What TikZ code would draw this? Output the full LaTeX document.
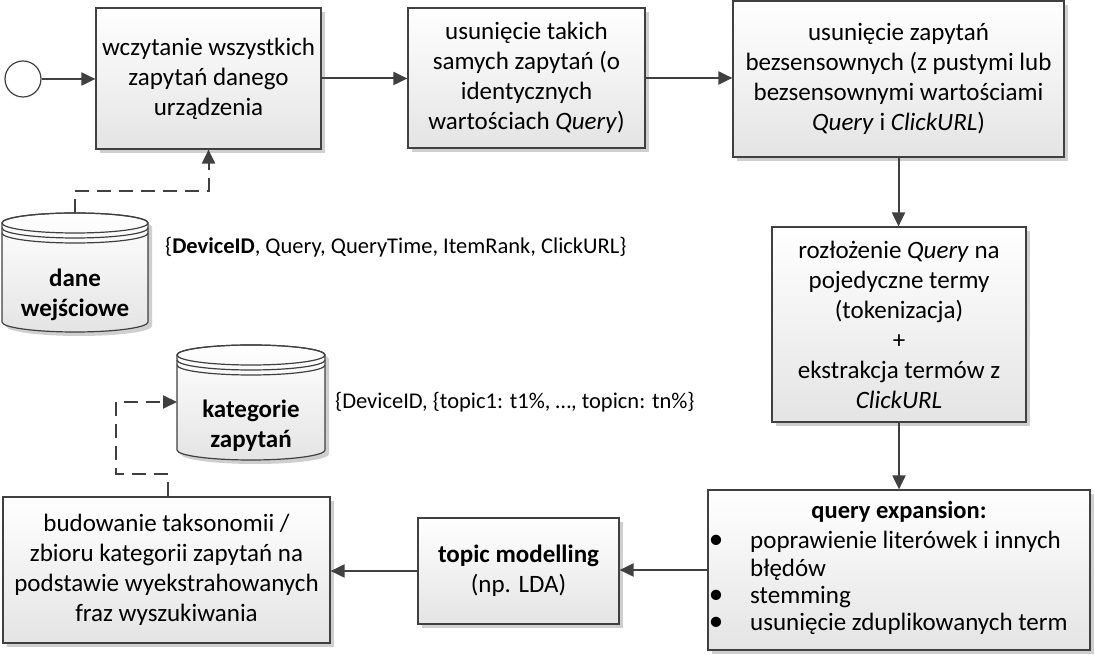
\documentclass[tikz,border=0pt]{standalone}
\usepackage{fontspec}
\setmainfont{Carlito}
\usetikzlibrary{arrows.meta,shadows,calc}
\definecolor{edgec}{HTML}{404040}
\definecolor{shadowc}{HTML}{CFCFCF}
\definecolor{boxbot}{HTML}{E4E4E4}
\newcommand\boxfont{\fontsize{25}{30}\selectfont}
\newcommand\lblfont{\fontsize{22.5}{27}\selectfont}
\newcommand\bulfont{\fontsize{29}{29}\selectfont}
\tikzset{
  procbox/.style={draw=edgec, line width=1.2pt, top color=white, bottom color=boxbot,
    drop shadow={shadow xshift=4pt, shadow yshift=-4pt, fill=shadowc, opacity=1},
    align=center, inner sep=0pt, font=\boxfont},
  flow/.style={draw=edgec, line width=2pt, -{Triangle[length=14pt,width=13pt]}},
  dflow/.style={flow, dash pattern=on 14pt off 8pt},
  lbl/.style={font=\lblfont, anchor=west, inner sep=0pt},
  cyltext/.style={font=\boxfont\bfseries, align=center, inner sep=0pt},
  cylbody/.style={draw=edgec, line width=1.2pt, top color=white, bottom color=boxbot},
  cylline/.style={draw=edgec, line width=1.2pt},
  txt/.style={font=\boxfont, inner sep=0pt},
  bul/.style={font=\bulfont, inner sep=0pt},
}
\begin{document}
\begin{tikzpicture}[x=1pt,y=1pt]
\useasboundingbox (0,0) rectangle (1094,655);
\fill[white] (0,0) rectangle (1094,655);

% start
\node[circle, draw=edgec, line width=1.2pt, fill=white, minimum size=36pt, inner sep=0pt] (start) at (23,576) {};

% boxes
\node[procbox, minimum width=225pt, minimum height=141pt] (b1) at (208.5,576.5)
  {wczytanie wszystkich\\zapytań danego\\urządzenia};
\node[procbox, minimum width=237pt, minimum height=140pt] (b2) at (526.5,577)
  {usunięcie takich\\samych zapytań (o\\identycznych\\wartościach \textit{Query})};
\node[procbox, minimum width=331pt, minimum height=156pt] (b3) at (898.5,576)
  {usunięcie zapytań\\bezsensownych (z pustymi lub\\bezsensownymi wartościami\\\textit{Query} i \textit{ClickURL})};
\node[procbox, minimum width=254pt, minimum height=195pt] (b4) at (899,330.5)
  {rozłożenie \textit{Query} na\\pojedyczne termy\\(tokenizacja)\\+\\ekstrakcja termów z\\\textit{ClickURL}};
\node[procbox, minimum width=382pt, minimum height=160pt] (b5) at (899,85) {};
\node[txt, font=\fontsize{24.5}{30}\selectfont\bfseries] (qe) at (899,143) {query expansion:};
\node[bul] (bu1) at (716,113) {•};
\node[txt, anchor=west] (t1) at (750,113) {poprawienie literówek i innych};
\node[txt, anchor=west] (t1b) at (750,85) {błędów};
\node[bul] (bu2) at (716,58) {•};
\node[txt, anchor=west] (t2) at (750,58) {stemming};
\node[bul] (bu3) at (716,31) {•};
\node[txt, anchor=west] (t3) at (750,31) {usunięcie zduplikowanych term};

\node[procbox, minimum width=201pt, minimum height=106pt] (b6) at (518.5,84)
  {\textbf{topic modelling}\\(np. LDA)};
\node[procbox, minimum width=327pt, minimum height=146pt] (b7) at (166.5,85)
  {budowanie taksonomii /\\zbioru kategorii zapytań na\\podstawie wyekstrahowanych\\fraz wyszukiwania};

% cylinder 1
\fill[shadowc] (6,428) -- (6,329) arc[start angle=180,end angle=360,x radius=73,y radius=10] -- (152,428) arc[start angle=0,end angle=180,x radius=73,y radius=10] -- cycle;
\path[cylbody] (2,432) -- (2,333) arc[start angle=180,end angle=360,x radius=73,y radius=10] -- (148,432) arc[start angle=0,end angle=180,x radius=73,y radius=10] -- cycle;
\draw[cylline] (75,432) ellipse[x radius=73,y radius=10];
\draw[cylline] (2,427) arc[start angle=180,end angle=360,x radius=73,y radius=10];
\draw[cylline] (2,422) arc[start angle=180,end angle=360,x radius=73,y radius=10];
\node[cyltext] (c1) at (75,360) {dane\\wejściowe};
\coordinate (c1top) at (75,442);

% cylinder 2
\fill[shadowc] (181,296) -- (181,201) arc[start angle=180,end angle=360,x radius=74,y radius=10] -- (329,296) arc[start angle=0,end angle=180,x radius=74,y radius=10] -- cycle;
\path[cylbody] (177,300) -- (177,205) arc[start angle=180,end angle=360,x radius=74,y radius=10] -- (325,300) arc[start angle=0,end angle=180,x radius=74,y radius=10] -- cycle;
\draw[cylline] (251,300) ellipse[x radius=74,y radius=10];
\draw[cylline] (177,295) arc[start angle=180,end angle=360,x radius=74,y radius=10];
\draw[cylline] (177,290) arc[start angle=180,end angle=360,x radius=74,y radius=10];
\node[cyltext] (c2) at (251,229) {kategorie\\zapytań};
\coordinate (c2left) at (177,253);

% labels
\node[lbl] (l1) at (165,408) {\{\textbf{DeviceID}, Query, QueryTime, ItemRank, ClickURL\}};
\node[lbl] (l2) at (335,253) {\{DeviceID, \{topic1: t1\%, …, topicn: tn\%\}};

% connectors
\draw[flow] (start.east) -- (start.east -| b1.west);
\draw[flow] (b1.east) -- (b1.east -| b2.west);
\draw[flow] (b2.east) -- (b2.east -| b3.west);
\draw[flow] (b3.south) -- (b3.south |- b4.north);
\draw[flow] (b4.south) -- (b4.south |- b5.north);
\draw[flow] (b5.west) -- (b5.west -| b6.east);
\draw[flow] (b6.west) -- (b6.west -| b7.east);
\draw[dflow] (c1top) -- ++(0,22) -| (b1.south);
\draw[dflow] ([xshift=1.5pt]b7.north) -- ++(0,22) -- ++(-52,0) |- (c2left);
\end{tikzpicture}
\end{document}
